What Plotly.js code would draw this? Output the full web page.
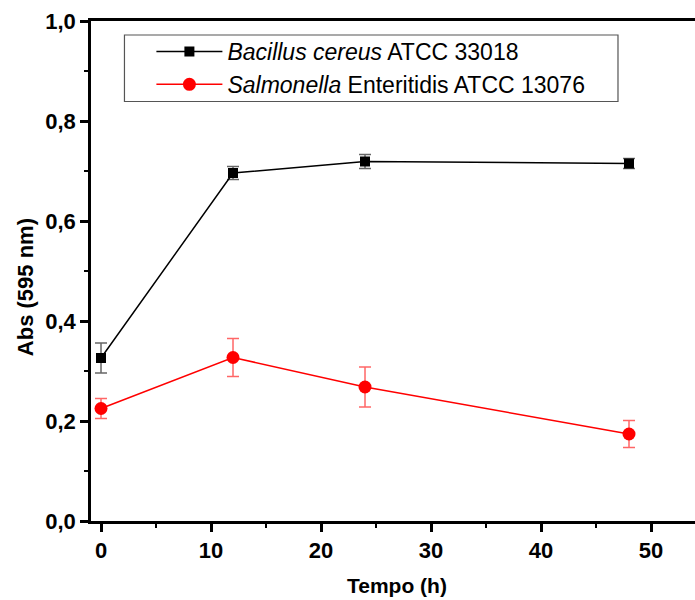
<!DOCTYPE html>
<html>
<head>
<meta charset="utf-8">
<script src="https://cdn.plot.ly/plotly-3.0.1.min.js"></script>
<style>html,body{margin:0;padding:0;background:#fff;}</style>
</head>
<body>
<div id="chart" style="width:695px;height:600px;"></div>
<script>
const timeHours = [0, 12, 24, 48];
const bacillusAbs = [0.326, 0.696, 0.719, 0.715];
const bacillusErr = [0.030, 0.013, 0.014, 0.010];
const salmonellaAbs = [0.225, 0.327, 0.268, 0.174];
const salmonellaErr = [0.020, 0.038, 0.040, 0.027];
const seriesNames = ['<i>Bacillus cereus</i> ATCC 33018', '<i>Salmonella</i> Enteritidis ATCC 13076'];
const xTitle = 'Tempo (h)';
const yTitle = 'Abs (595 nm)';

const FONT = 'Arial, "Liberation Sans", sans-serif';

const traces = [
  {
    x: timeHours, y: bacillusAbs, name: seriesNames[0], type: 'scatter', mode: 'lines+markers',
    line: {color: '#000000', width: 1.5},
    marker: {symbol: 'square', size: 10, color: '#000000'},
    error_y: {type: 'data', array: bacillusErr, visible: true, color: 'rgba(0,0,0,0.6)', thickness: 1.5, width: 6}
  },
  {
    x: timeHours, y: salmonellaAbs, name: seriesNames[1], type: 'scatter', mode: 'lines+markers',
    line: {color: '#ff0000', width: 1.5},
    marker: {symbol: 'circle', size: 13, color: '#ff0000'},
    error_y: {type: 'data', array: salmonellaErr, visible: true, color: 'rgba(255,0,0,0.6)', thickness: 1.5, width: 6}
  }
];

const axisFont = {family: FONT, size: 22, color: '#000', weight: 'bold'};

const layout = {
  width: 695, height: 600,
  margin: {l: 91, r: 0, t: 21, b: 79, pad: 0},
  paper_bgcolor: '#fff', plot_bgcolor: '#fff',
  font: {family: FONT, color: '#000'},
  separators: ',.',
  showlegend: true,
  legend: {
    x: 0.1, y: 0.982, xanchor: 'left', yanchor: 'top',
    bgcolor: 'rgba(0,0,0,0)', borderwidth: 0,
    font: {size: 23, color: '#000', family: FONT},
    itemwidth: 66, tracegroupgap: 0
  },
  shapes: [
    {type: 'rect', xref: 'paper', yref: 'paper', x0: 0.0554, x1: 0.8725, y0: 0.839, y1: 0.972,
     line: {color: '#555', width: 1.2}, fillcolor: 'rgba(0,0,0,0)'}
  ],
  annotations: [
    {text: yTitle, xref: 'paper', yref: 'paper', x: -0.109, y: 0.468, xanchor: 'center', yanchor: 'middle',
     textangle: -90, showarrow: false, font: {family: FONT, size: 22, weight: 'bold', color: '#000'}},
    {text: xTitle, xref: 'paper', yref: 'paper', x: 0.507, y: -0.128, xanchor: 'center', yanchor: 'middle',
     showarrow: false, font: {family: FONT, size: 21, weight: 'bold', color: '#000'}}
  ],
  xaxis: {
    range: [-0.91, 54], showgrid: false, zeroline: false,
    showline: true, linecolor: '#000', linewidth: 2.5, mirror: true,
    ticks: 'outside', ticklen: 8, tickwidth: 2.5, tickcolor: '#000',
    tick0: 0, dtick: 10,
    minor: {ticks: 'outside', ticklen: 4, tickwidth: 2, tickcolor: '#000', dtick: 5, tick0: 0},
    tickfont: axisFont
  },
  yaxis: {
    range: [0, 1], showgrid: false, zeroline: false,
    showline: true, linecolor: '#000', linewidth: 2.5,
    ticks: 'outside', ticklen: 8, tickwidth: 2.5, tickcolor: '#000',
    tick0: 0, dtick: 0.2, tickformat: '.1f',
    minor: {ticks: 'outside', ticklen: 4, tickwidth: 2, tickcolor: '#000', dtick: 0.1, tick0: 0},
    tickfont: axisFont
  }
};

Plotly.newPlot('chart', traces, layout, {displayModeBar: false, responsive: false});
</script>
</body>
</html>
